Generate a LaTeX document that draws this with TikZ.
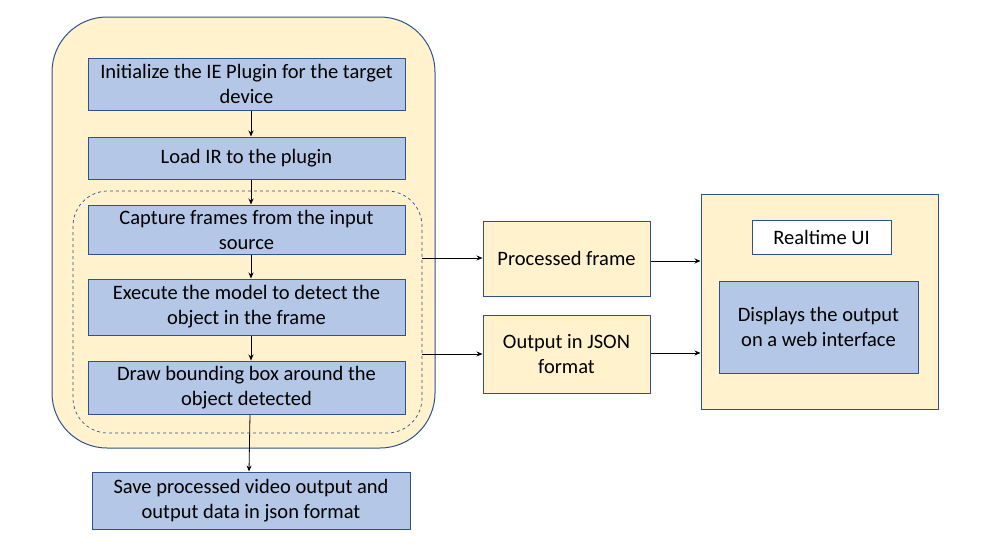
\documentclass[tikz,border=0pt]{standalone}
\usepackage{fontspec}
\setmainfont{Carlito}
\usetikzlibrary{arrows.meta}
\definecolor{bfill}{HTML}{B4C7E7}
\definecolor{yfill}{HTML}{FFF2CC}
\definecolor{bline}{HTML}{2F528F}
\begin{document}
\begin{tikzpicture}[x=1pt,y=-1pt,
  every node/.style={font=\fontsize{20.5}{25}\selectfont, align=center, inner sep=0pt},
  bluebox/.style={draw=bline, fill=bfill, line width=1pt},
  yelbox/.style={draw=bline, fill=yfill, line width=1pt},
  whitebox/.style={draw=bline, fill=white, line width=1pt},
  arr/.style={-{Stealth[length=6pt,width=5pt]}, line width=0.8pt, black},
  garr/.style={-{Stealth[length=6pt,width=5pt]}, line width=0.8pt, black!75}]
\useasboundingbox (0,0) rectangle (998,550);
% outer container
\draw[yelbox, rounded corners=55pt] (52,17) rectangle (435,448);
\draw[bline, dashed, line width=0.7pt, rounded corners=35pt] (73,191) rectangle (422,433);
\coordinate (d1) at (422,258);
\coordinate (d2) at (422,354);
% boxes
\node[bluebox, minimum width=317pt, minimum height=52pt] (b1) at (246.5,84) {Initialize the IE Plugin for the target\\device};
\node[bluebox, minimum width=317pt, minimum height=42pt] (b2) at (246.5,158) {Load IR to the plugin};
\node[bluebox, minimum width=317pt, minimum height=49pt] (b3) at (246.5,229.5) {Capture frames from the input\\source};
\node[bluebox, minimum width=317pt, minimum height=56pt] (b4) at (246.5,307) {Execute the model to detect the\\object in the frame};
\node[bluebox, minimum width=317pt, minimum height=53pt] (b5) at (246.5,387.5) {Draw bounding box around the\\object detected};
\node[bluebox, minimum width=318pt, minimum height=57pt] (b6) at (251,500.5) {Save processed video output and\\output data in json format};
% middle
\node[yelbox, minimum width=167pt, minimum height=75pt] (pf) at (566.5,258.5) {Processed frame};
\node[yelbox, minimum width=167pt, minimum height=78pt] (oj) at (566.5,354) {Output in JSON\\format};
% right
\node[yelbox, minimum width=237pt, minimum height=215pt] (rt) at (819.5,301.5) {};
\node[whitebox, minimum width=139pt, minimum height=34pt] (ui) at (821.5,237) {Realtime UI};
\node[bluebox, minimum width=199pt, minimum height=92pt] (dp) at (818.5,327) {Displays the output\\on a web interface};
% arrows
\draw[arr] (b1.south -| 251,0) -- (b2.north -| 251,0);
\draw[arr] (b2.south -| 251,0) -- (b3.north -| 251,0);
\draw[arr] (b3.south -| 251,0) -- (b4.north -| 251,0);
\draw[arr] (b4.south -| 251,0) -- (b5.north -| 251,0);
\draw[arr] (b5.south -| 250,0) -- (b6.north -| 249,0);
\draw[arr] (d1) -- (d1 -| pf.west);
\draw[arr] (d2) -- (d2 -| oj.west);
\draw[arr] (pf.east |- 0,261) -- (rt.west |- 0,261);
\draw[arr] (oj.east |- 0,353) -- (rt.west |- 0,353);
\end{tikzpicture}
\end{document}
